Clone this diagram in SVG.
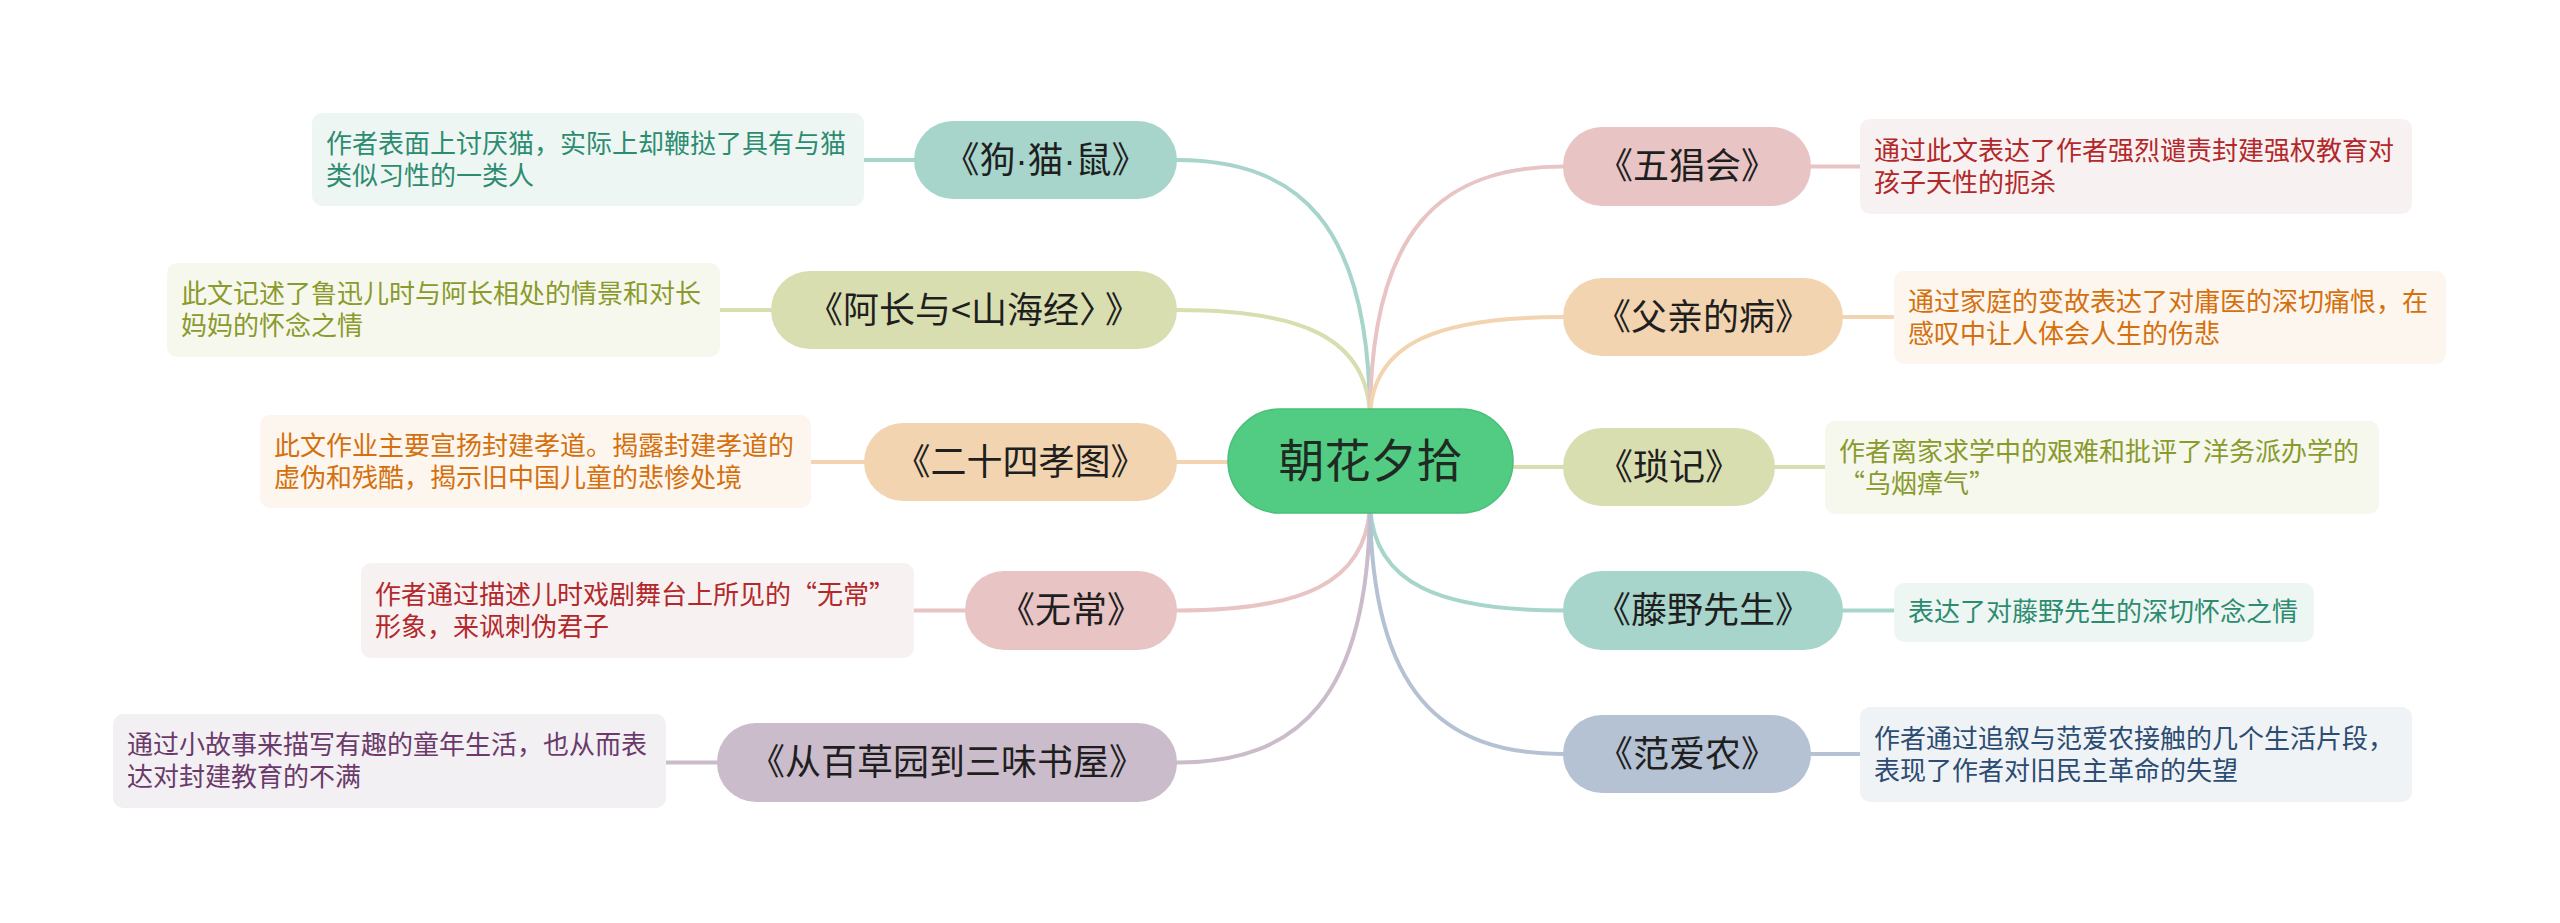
<svg xmlns="http://www.w3.org/2000/svg" width="2560" height="923" viewBox="0 0 2560 923">
<style>
.conn path,.conn line{fill:none;stroke-width:4;stroke-linecap:round}
.t{font-family:"Noto Sans CJK SC","Noto Sans",sans-serif}
.main text{font-size:36px;fill:#1f1f1f;text-anchor:middle}
.desc text{font-size:26px}
.dot{font-family:"Liberation Sans",sans-serif}
.c-teal{stroke:#a8d5cb}.c-olive{stroke:#d9deb0}.c-peach{stroke:#f2d4b0}.c-pink{stroke:#e8c4c4}.c-mauve{stroke:#cbbccb}.c-blue{stroke:#b5c2d3}
</style>
<rect width="2560" height="923" fill="#ffffff"/>
<g id="connectors" class="conn">
<path class="c-teal" d="M1177,160 C1297,160 1370,222 1370,420"/>
<path class="c-olive" d="M1177,310 C1297,310 1370,335 1370,420"/>
<line class="c-peach" x1="1177" y1="462" x2="1240" y2="462"/>
<path class="c-pink" d="M1177,610.5 C1297,610.5 1370,586 1370,500"/>
<path class="c-mauve" d="M1177,762.5 C1297,762.5 1370,700 1370,500"/>
<path class="c-pink" d="M1563,166.5 C1443,166.5 1370,227 1370,420"/>
<path class="c-peach" d="M1563,317 C1443,317 1370,340 1370,420"/>
<line class="c-olive" x1="1500" y1="467" x2="1563" y2="467"/>
<path class="c-teal" d="M1563,610.5 C1443,610.5 1370,586 1370,500"/>
<path class="c-blue" d="M1563,754 C1443,754 1370,694 1370,500"/>
<line class="c-teal" x1="864" y1="160" x2="914" y2="160"/>
<line class="c-olive" x1="720" y1="310" x2="771" y2="310"/>
<line class="c-peach" x1="811" y1="462" x2="864" y2="462"/>
<line class="c-pink" x1="914" y1="610.5" x2="965" y2="610.5"/>
<line class="c-mauve" x1="666" y1="762.5" x2="717" y2="762.5"/>
<line class="c-pink" x1="1811" y1="166.5" x2="1860" y2="166.5"/>
<line class="c-peach" x1="1843" y1="317" x2="1894" y2="317"/>
<line class="c-olive" x1="1775" y1="467" x2="1825" y2="467"/>
<line class="c-teal" x1="1843" y1="610.5" x2="1894" y2="610.5"/>
<line class="c-blue" x1="1811" y1="754" x2="1860" y2="754"/>
</g>
<g id="center">
<rect x="1228" y="409" width="285" height="104" rx="52" fill="#52cc82" stroke="#49bf77" stroke-width="1.5"/>
<text class="t" x="1370.5" y="477" font-size="46" fill="#1f2a22" text-anchor="middle">朝花夕拾</text>
</g>
<g id="n-gou" class="main">
<rect x="914" y="121" width="263" height="78" rx="39" fill="#a8d5cb"/>
<text class="t" x="1045.5" y="173">《狗<tspan class="dot">·</tspan>猫<tspan class="dot">·</tspan>鼠》</text>
</g>
<g id="n-achang" class="main">
<rect x="771" y="271" width="406" height="78" rx="39" fill="#d9deb0"/>
<text class="t" x="974" y="323">《阿长与&lt;山海经〉<tspan dx="8">》</tspan></text>
</g>
<g id="n-xiaotu" class="main">
<rect x="864" y="423" width="313" height="78" rx="39" fill="#f2d4b0"/>
<text class="t" x="1020.5" y="475">《二十四孝图》</text>
</g>
<g id="n-wuchang" class="main">
<rect x="965" y="571" width="212" height="79" rx="39" fill="#e8c4c4"/>
<text class="t" x="1071" y="623">《无常》</text>
</g>
<g id="n-baicao" class="main">
<rect x="717" y="723" width="460" height="79" rx="39" fill="#cbbccb"/>
<text class="t" x="947" y="775">《从百草园到三味书屋》</text>
</g>
<g id="n-wuchang2" class="main">
<rect x="1563" y="127" width="248" height="79" rx="39" fill="#e8c4c4"/>
<text class="t" x="1687" y="179">《五猖会》</text>
</g>
<g id="n-fuqin" class="main">
<rect x="1563" y="278" width="280" height="78" rx="39" fill="#f2d4b0"/>
<text class="t" x="1703" y="330">《父亲的病》</text>
</g>
<g id="n-suoji" class="main">
<rect x="1563" y="428" width="212" height="78" rx="39" fill="#d9deb0"/>
<text class="t" x="1669" y="480">《琐记》</text>
</g>
<g id="n-tengye" class="main">
<rect x="1563" y="571" width="280" height="79" rx="39" fill="#a8d5cb"/>
<text class="t" x="1703" y="623">《藤野先生》</text>
</g>
<g id="n-fan" class="main">
<rect x="1563" y="715" width="248" height="78" rx="39" fill="#b5c2d3"/>
<text class="t" x="1687" y="767">《范爱农》</text>
</g>
<g id="d-gou" class="desc">
<rect x="312" y="113" width="552" height="93" rx="10" fill="#eef6f4"/>
<text class="t" x="326" y="153" fill="#2d8c70">作者表面上讨厌猫，实际上却鞭挞了具有与猫</text>
<text class="t" x="326" y="185" fill="#2d8c70">类似习性的一类人</text>
</g>
<g id="d-achang" class="desc">
<rect x="167" y="263" width="553" height="94" rx="10" fill="#f6f8ee"/>
<text class="t" x="181" y="303" fill="#8a9a2c">此文记述了鲁迅儿时与阿长相处的情景和对长</text>
<text class="t" x="181" y="335" fill="#8a9a2c">妈妈的怀念之情</text>
</g>
<g id="d-xiaotu" class="desc">
<rect x="260" y="415" width="551" height="93" rx="10" fill="#fdf6ee"/>
<text class="t" x="274" y="455" fill="#d4700e">此文作业主要宣扬封建孝道。揭露封建孝道的</text>
<text class="t" x="274" y="487" fill="#d4700e">虚伪和残酷，揭示旧中国儿童的悲惨处境</text>
</g>
<g id="d-wuchang" class="desc">
<rect x="361" y="563" width="553" height="95" rx="10" fill="#f8f1f1"/>
<text class="t" x="375" y="604" fill="#b3282a">作者通过描述儿时戏剧舞台上所见的“无常”</text>
<text class="t" x="375" y="636" fill="#b3282a">形象，来讽刺伪君子</text>
</g>
<g id="d-baicao" class="desc">
<rect x="113" y="714" width="553" height="94" rx="10" fill="#f3f0f4"/>
<text class="t" x="127" y="754" fill="#6b3a6b">通过小故事来描写有趣的童年生活，也从而表</text>
<text class="t" x="127" y="786" fill="#6b3a6b">达对封建教育的不满</text>
</g>
<g id="d-wuchang2" class="desc">
<rect x="1860" y="119" width="552" height="95" rx="10" fill="#f8f1f1"/>
<text class="t" x="1874" y="160" fill="#b3282a">通过此文表达了作者强烈谴责封建强权教育对</text>
<text class="t" x="1874" y="192" fill="#b3282a">孩子天性的扼杀</text>
</g>
<g id="d-fuqin" class="desc">
<rect x="1894" y="271" width="552" height="93" rx="10" fill="#fdf6ee"/>
<text class="t" x="1908" y="311" fill="#d4700e">通过家庭的变故表达了对庸医的深切痛恨，在</text>
<text class="t" x="1908" y="343" fill="#d4700e">感叹中让人体会人生的伤悲</text>
</g>
<g id="d-suoji" class="desc">
<rect x="1825" y="421" width="554" height="93" rx="10" fill="#f6f8ee"/>
<text class="t" x="1839" y="461" fill="#8a9a2c">作者离家求学中的艰难和批评了洋务派办学的</text>
<text class="t" x="1839" y="493" fill="#8a9a2c">“乌烟瘴气”</text>
</g>
<g id="d-tengye" class="desc">
<rect x="1894" y="583" width="420" height="59" rx="10" fill="#eef6f4"/>
<text class="t" x="1908" y="621" fill="#2d8c70">表达了对藤野先生的深切怀念之情</text>
</g>
<g id="d-fan" class="desc">
<rect x="1860" y="707" width="552" height="95" rx="10" fill="#eff3f6"/>
<text class="t" x="1874" y="748" fill="#2c4c72">作者通过追叙与范爱农接触的几个生活片段，</text>
<text class="t" x="1874" y="780" fill="#2c4c72">表现了作者对旧民主革命的失望</text>
</g>
</svg>
